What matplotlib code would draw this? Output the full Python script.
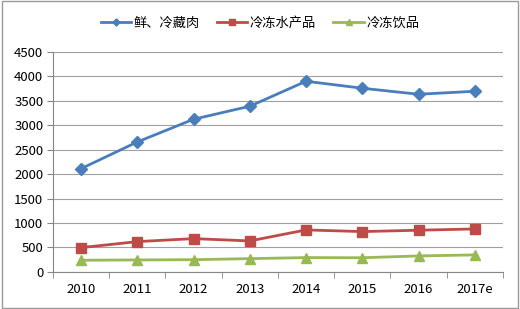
import matplotlib
matplotlib.use("Agg")
import matplotlib.pyplot as plt
import numpy as np

plt.rcParams['font.family'] = ['Noto Sans CJK SC', 'DejaVu Sans']

years = ['2010', '2011', '2012', '2013', '2014', '2015', '2016', '2017e']
meat = [2113, 2659, 3123, 3389, 3900, 3757, 3634, 3695]
aquatic = [497, 620, 681, 634, 859, 825, 853, 879]
drinks = [239, 245, 250, 272, 293, 290, 327, 348]
series_names = ['鲜、冷藏肉', '冷冻水产品', '冷冻饮品']

fig = plt.figure(figsize=(5.2, 3.09), dpi=100)
ax = fig.add_axes([0.102, 0.12, 0.865, 0.712])

x = np.arange(len(years))
ax.plot(x, meat, color='#4a7ebb', lw=2, marker='D', ms=6, label=series_names[0])
ax.plot(x, aquatic, color='#be4b48', lw=2, marker='s', ms=7.5, label=series_names[1])
ax.plot(x, drinks, color='#98b954', lw=2, marker='^', ms=7.5, label=series_names[2])

ax.set_xlim(-0.5, len(years) - 0.5)
ax.set_ylim(0, 4500)
ax.set_yticks(np.arange(0, 4501, 500))
ax.set_xticks(x)
ax.set_xticklabels(years)
ax.set_xticks(np.arange(-0.5, len(years), 1), minor=True)
ax.tick_params(axis='x', which='major', length=0, pad=8, labelsize=9.5)
ax.tick_params(axis='x', which='minor', length=4, color='#868686')
ax.tick_params(axis='y', length=4, color='#868686', labelsize=9.5, pad=3)
ax.grid(axis='y', color='#a0a0a0', lw=0.8)
ax.set_axisbelow(True)
for s in ['top', 'right']:
    ax.spines[s].set_visible(False)
for s in ['left', 'bottom']:
    ax.spines[s].set_color('#868686')

fig.legend(loc='upper center', bbox_to_anchor=(0.5, 0.985), ncol=3, frameon=False,
           fontsize=9.5, handlelength=2.3, columnspacing=1.3, handletextpad=0.2,
           markerscale=0.6)

fig.patches.append(plt.Rectangle((0.003, 0.003), 0.994, 0.994, transform=fig.transFigure,
                                 fill=False, edgecolor='#999999', lw=1))
fig.savefig('out.png', dpi=100)
